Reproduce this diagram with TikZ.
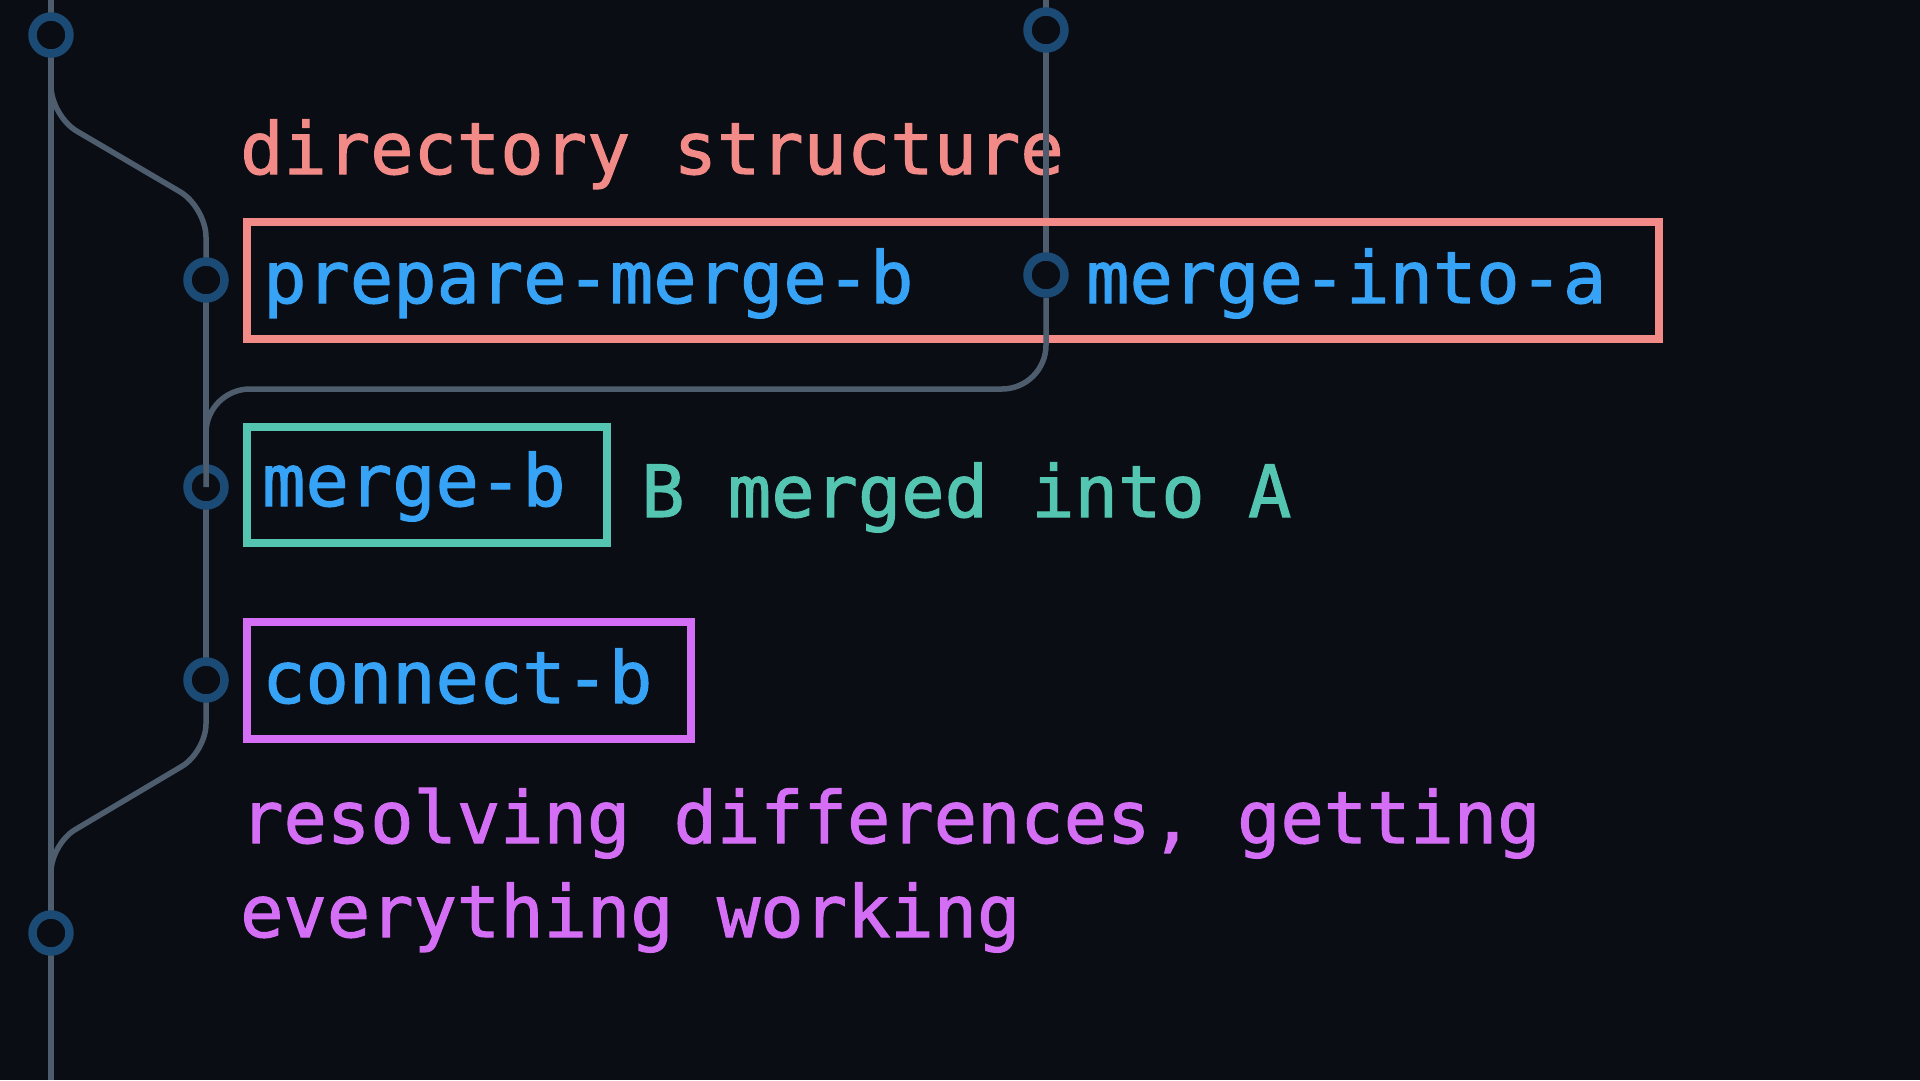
\documentclass[tikz,border=0pt]{standalone}
\usepackage{fontspec}
\newfontfamily\codefont[FakeBold=1.5]{DejaVu Sans Mono}
\definecolor{bgc}{HTML}{0A0D14}
\definecolor{linec}{HTML}{4E5D6E}
\definecolor{ringc}{HTML}{1B4A74}
\definecolor{pinkc}{HTML}{F28B88}
\definecolor{bluec}{HTML}{36A3F7}
\definecolor{tealc}{HTML}{54C5B0}
\definecolor{purplec}{HTML}{D36EF5}
\tikzset{
  rail/.style={draw=linec, line width=5.5pt},
  commit/.style={circle, draw=ringc, fill=bgc, line width=8.5pt, minimum size=37pt, inner sep=0pt},
  lbl/.style={anchor=base west, inner sep=0pt, font=\codefont\fontsize{72}{86}\selectfont},
  tagbox/.style={draw, line width=8pt, inner sep=0pt},
}
\begin{document}
\begin{tikzpicture}[x=1pt, y=-1pt]
\useasboundingbox (0,0) rectangle (1920,1080);
\fill[bgc] (0,0) rectangle (1920,1080);
% commit positions
\coordinate (pA1) at (51,35);
\coordinate (pA2) at (51,933);
\coordinate (pB1) at (206,280);
\coordinate (pB2) at (206,487);
\coordinate (pB3) at (206,680);
\coordinate (pC1) at (1046,30);
\coordinate (pC2) at (1046,275);
\coordinate (topA) at (51,0);
\coordinate (botA) at (51,1080);
\coordinate (topC) at (1046,0);
% texts
\node[lbl, text=pinkc] (t1) at (240,174) {directory structure};
\node[lbl, text=tealc] (t2) at (641,517) {B merged into A};
\node[lbl, text=purplec] (t3) at (240,843) {resolving differences, getting};
\node[lbl, text=purplec] (t4) at (240,937) {everything working};
% rails
\draw[rail] (topA) -- (botA);
\draw[rail, rounded corners=30pt] (pA1) -- (51,116) -- (206,207) -- (pB1);
\draw[rail] (pB1) -- (pB2) -- (pB3);
\draw[rail, rounded corners=28pt] (pB3) -- (206,752) -- (51,844) -- (pA2);
\draw[rail] (topC) -- (pC2);
% boxes
\node[tagbox, draw=pinkc, minimum width=1412pt, minimum height=117pt] (boxP) at (953,280.5) {};
\node[tagbox, draw=tealc, minimum width=360pt, minimum height=116pt] (boxT) at (427,485) {};
\node[tagbox, draw=purplec, minimum width=444pt, minimum height=117pt] (boxU) at (469,680.5) {};
\node[lbl, text=bluec] (l1) at (263,303) {prepare-merge-b};
\node[lbl, text=bluec] (l2) at (1086,303) {merge-into-a};
\node[lbl, text=bluec] (l3) at (262,506) {merge-b};
\node[lbl, text=bluec] (l4) at (262,703) {connect-b};
% commits
\node[commit] (cA1) at (pA1) {};
\node[commit] (cA2) at (pA2) {};
\node[commit] (cB1) at (pB1) {};
\node[commit] (cB2) at (pB2) {};
\node[commit] (cB3) at (pB3) {};
\node[commit] (cC1) at (pC1) {};
\node[commit] (cC2) at (pC2) {};
% merge connector drawn over the commit ring
\draw[rail, rounded corners=44pt] (cC2.south) -- (1046,389) -- (206,389) -- (cB2.center);
\end{tikzpicture}
\end{document}
